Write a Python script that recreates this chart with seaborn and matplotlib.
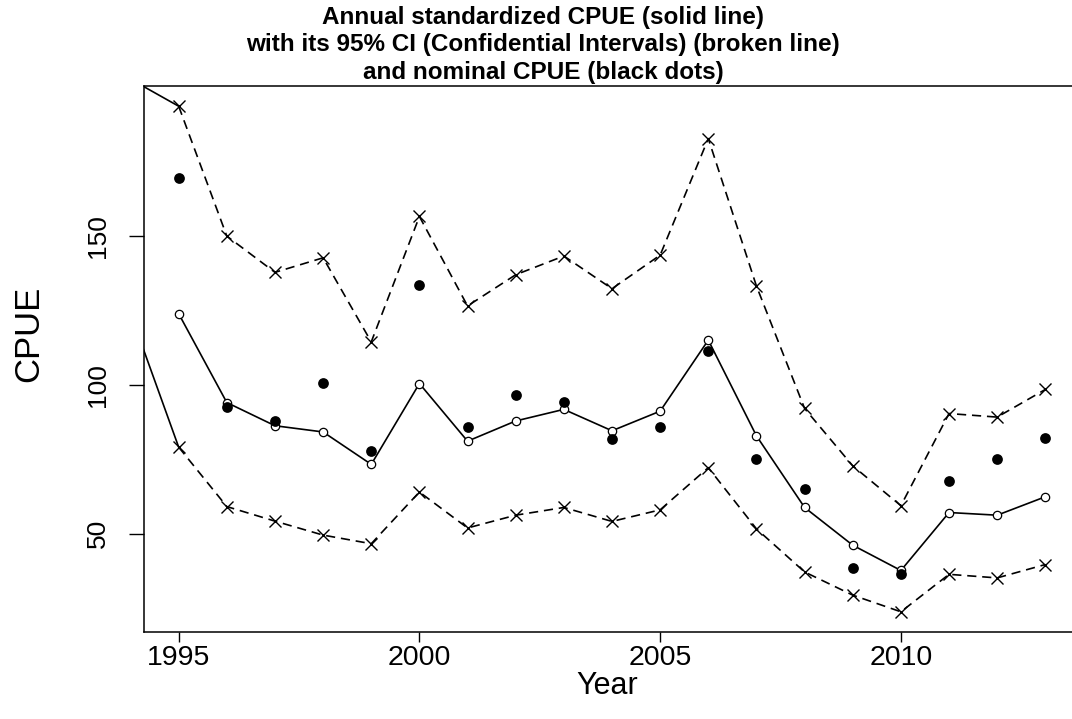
import matplotlib
matplotlib.use("Agg")
import matplotlib.pyplot as plt
import seaborn as sns
import pandas as pd

# ---- data ----
years = list(range(1995, 2014))
std_cpue = [124.0, 94.1, 86.3, 84.2, 73.3, 100.5, 81.1, 87.9, 91.8, 84.6,
            91.2, 115.1, 82.9, 58.8, 46.1, 37.6, 57.1, 56.2, 62.4]
nominal_cpue = [169.6, 92.5, 87.9, 100.8, 77.7, 133.5, 85.8, 96.8, 94.4, 81.7,
                85.8, 111.3, 75.1, 65.1, 38.6, 36.5, 67.8, 75.1, 82.1]
upper_ci = [193.8, 150.1, 137.9, 142.8, 114.5, 156.7, 126.6, 137.1, 143.4, 132.4,
            143.7, 182.9, 133.3, 92.1, 72.8, 59.4, 90.4, 89.2, 98.5]
lower_ci = [79.1, 59.1, 54.2, 49.5, 46.6, 64.0, 51.9, 56.2, 58.8, 54.1,
            58.0, 72.2, 51.6, 37.1, 29.3, 23.7, 36.3, 35.1, 39.6]
# solid lead-in segments entering from the left edge (previous year values)
lead_year = 1994
lead_upper = 202.9
lead_lower = 124.1

x_ticks = [1995, 2000, 2005, 2010]
y_ticks = [50, 100, 150]
title = ("Annual standardized CPUE (solid line)\n"
         "with its 95% CI (Confidential Intervals) (broken line)\n"
         "and nominal CPUE (black dots)")

df = pd.DataFrame({"Year": years, "std": std_cpue, "nominal": nominal_cpue,
                   "upper": upper_ci, "lower": lower_ci})

sns.set_style("ticks")
plt.rcParams["font.family"] = ["Liberation Sans", "DejaVu Sans"]
plt.rcParams["text.color"] = "black"
plt.rcParams["axes.labelcolor"] = "black"

W, H = 1072, 719
fig = plt.figure(figsize=(W / 100, H / 100), dpi=100)
ax = fig.add_axes([144 / W, 1 - 632 / H, (1080 - 144) / W, (632 - 86) / H])

dash = (0, (5.5, 3.5))
# lead-in solid segments
lead_df = pd.DataFrame({"Year": [lead_year, years[0]],
                        "up": [lead_upper, upper_ci[0]],
                        "lo": [lead_lower, lower_ci[0]]})
sns.lineplot(data=lead_df, x="Year", y="up", ax=ax, color="black", lw=1.2)
sns.lineplot(data=lead_df, x="Year", y="lo", ax=ax, color="black", lw=1.2)

# confidence interval (broken lines with x markers)
for col in ["upper", "lower"]:
    sns.lineplot(data=df, x="Year", y=col, ax=ax, color="black", lw=1.2,
                 linestyle=dash, marker="x", markersize=9, markeredgewidth=1.0,
                 markeredgecolor="black")

# standardized CPUE (solid line with open circles)
sns.lineplot(data=df, x="Year", y="std", ax=ax, color="black", lw=1.2,
             marker="o", markersize=6, markerfacecolor="white",
             markeredgecolor="black", markeredgewidth=0.9)

# nominal CPUE (black dots)
sns.scatterplot(data=df, x="Year", y="nominal", ax=ax, color="black",
                s=60, marker="o", edgecolor="black", linewidth=0, zorder=5)

ax.set_xlim(1994.28, 2013.72)
ax.set_ylim(16.9, 200.6)
ax.set_xticks(x_ticks)
ax.set_xticklabels([str(t) for t in x_ticks])
ax.set_yticks(y_ticks)
ax.set_yticklabels([str(t) for t in y_ticks])

for s in ax.spines.values():
    s.set_visible(True)
    s.set_linewidth(1.1)
    s.set_color("black")

ax.tick_params(axis="x", length=7.5, width=1.0, pad=2, labelsize=20.5,
               colors="black", labelcolor="black")
ax.tick_params(axis="y", length=10.8, width=1.0, pad=14, labelsize=19,
               labelrotation=90, colors="black", labelcolor="black")
for lab in ax.get_yticklabels():
    lab.set_va("center")

ax.set_xlabel("Year", fontsize=22, color="black")
ax.xaxis.set_label_coords((607 - 144) / 936, (632 - 686) / 546)
ax.xaxis.label.set_va("center")
ax.set_ylabel("CPUE", fontsize=25, color="black")
ax.yaxis.set_label_coords((29 - 144) / 936, (632 - 334) / 546)
ax.yaxis.label.set_va("center")

fig.text(543 / W, 1 - 6 / H, title, ha="center", va="top", fontsize=17.5,
         fontweight="bold", linespacing=1.25, color="black")

fig.savefig("out.png", dpi=100)
